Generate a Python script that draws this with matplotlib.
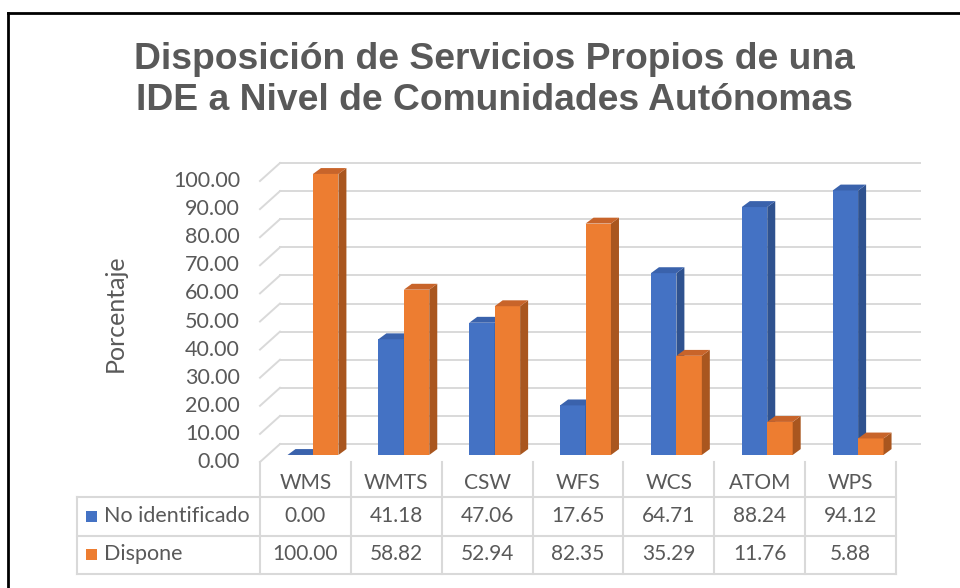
import matplotlib.pyplot as plt
from matplotlib.patches import Polygon, Rectangle
from matplotlib import transforms

categories = ["WMS", "WMTS", "CSW", "WFS", "WCS", "ATOM", "WPS"]
no_identificado = [0.00, 41.18, 47.06, 17.65, 64.71, 88.24, 94.12]
dispone = [100.00, 58.82, 52.94, 82.35, 35.29, 11.76, 5.88]
series_names = ["No identificado", "Dispone"]
yticks = [0, 10, 20, 30, 40, 50, 60, 70, 80, 90, 100]

W, H = 960, 588
text_gray = "#595959"
grid_gray = "#D9D9D9"
front_colors = ["#4472C4", "#ED7D31"]
side_colors = ["#2F528F", "#A9561F"]
top_colors = ["#3A62AC", "#C8642A"]

plt.rcParams['font.family'] = ['Lato', 'DejaVu Sans']

fig = plt.figure(figsize=(W / 100, H / 100), dpi=100)


def fx(px):
    return px / W


def fy(py):
    return 1 - py / H


# outer frame (top and left edges only visible)
fig.add_artist(plt.Line2D([fx(8), 1], [fy(13), fy(13)], color="black", lw=2))
fig.add_artist(plt.Line2D([fx(8), fx(8)], [fy(13), 0], color="black", lw=2))

fig.text(fx(494), fy(80), "Disposición de Servicios Propios de una\nIDE a Nivel de Comunidades Autónomas",
         ha="center", va="center", fontsize=26.8, fontweight="bold", color=text_gray,
         family="Liberation Sans", linespacing=1.22)

ax = fig.add_axes([fx(260), fy(462), fx(896) - fx(260), fy(181) - fy(462)])
ax.set_xlim(-0.5, len(categories) - 0.5)
ax.set_ylim(0, 100)
ax.axis("off")

# 3D offsets (data units)
back_dx, back_dy = 0.22, 6.4
bar_dx, bar_dy = 0.083, 2.5
depth_dx, depth_dy = 0.088, 2.1
bar_w = 0.28

n = len(categories)
for v in yticks:
    ax.plot([-0.5 + back_dx, n - 0.5 + back_dx + 0.04], [v + back_dy, v + back_dy],
            color=grid_gray, lw=1.4, clip_on=False, zorder=1)
    ax.plot([-0.5, -0.5 + back_dx], [v, v + back_dy], color=grid_gray, lw=1.4,
            clip_on=False, zorder=1)
    ax.text(-0.5 - 20 / 90.86, v, f"{v:.2f}", ha="right", va="center",
            fontsize=15.5, color=text_gray)


def bar3d(x0, h, k):
    b = bar_dy
    ax.add_patch(Rectangle((x0, b), bar_w, h, facecolor=front_colors[k],
                           edgecolor="none", zorder=3 + k, clip_on=False))
    ax.add_patch(Polygon([(x0 + bar_w, b), (x0 + bar_w + depth_dx, b + depth_dy),
                          (x0 + bar_w + depth_dx, b + h + depth_dy), (x0 + bar_w, b + h)],
                         closed=True, facecolor=side_colors[k], edgecolor="none",
                         zorder=3 + k, clip_on=False))
    ax.add_patch(Polygon([(x0, b + h), (x0 + bar_w, b + h),
                          (x0 + bar_w + depth_dx, b + h + depth_dy), (x0 + depth_dx, b + h + depth_dy)],
                         closed=True, facecolor=top_colors[k], edgecolor="none",
                         zorder=3 + k, clip_on=False))


for i in range(n):
    c = i + bar_dx
    bar3d(c - bar_w, no_identificado[i], 0)
    bar3d(c, dispone[i], 1)

ax.text(-0.5 - 145 / 90.86, 53, "Porcentaje", rotation=90, ha="center", va="center",
        fontsize=18, color=text_gray)

# data table
tr = transforms.blended_transform_factory(ax.transData, fig.transFigure)
left_x = -0.5 - (260 - 77) / 90.86
row_lines = [497, 536, 574]
for py in row_lines:
    ax.plot([left_x, n - 0.5], [fy(py), fy(py)], color=grid_gray, lw=1.5,
            transform=tr, clip_on=False)
for i in range(n + 1):
    ax.plot([i - 0.5, i - 0.5], [fy(462), fy(574)], color=grid_gray, lw=1.5,
            transform=tr, clip_on=False)
ax.plot([left_x, left_x], [fy(497), fy(574)], color=grid_gray, lw=1.5,
        transform=tr, clip_on=False)

for i, cat in enumerate(categories):
    ax.text(i, fy(483), cat, ha="center", va="center", fontsize=15, color=text_gray,
            transform=tr)

row_centers = [516, 554]
for k, vals in enumerate([no_identificado, dispone]):
    yc = row_centers[k]
    fig.add_artist(Rectangle((fx(86), fy(yc + 6)), fx(11), 11 / H,
                             facecolor=front_colors[k], edgecolor="none"))
    fig.text(fx(104), fy(yc), series_names[k], ha="left", va="center",
             fontsize=15.5, color=text_gray)
    for i, v in enumerate(vals):
        ax.text(i, fy(yc), f"{v:.2f}", ha="center", va="center", fontsize=15,
                color=text_gray, transform=tr)

fig.savefig("out.png", dpi=100)
